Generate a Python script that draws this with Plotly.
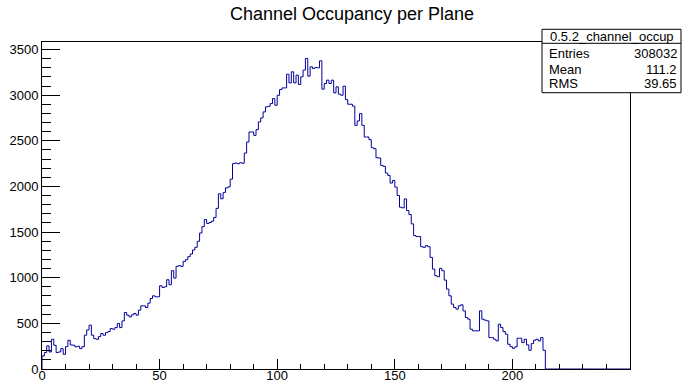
import plotly.graph_objects as go

# Histogram binning: 250 bins of width 1 from 0 to 250
x_low = 0
bin_width = 1
n_bins = 250

# Bin contents of channel occupancy (non-empty bins 0..213)
counts = [
    143, 180, 253, 187, 326, 260, 180, 187, 223, 161,
    245, 315, 264, 260, 242, 249, 223, 245, 370, 428,
    480, 370, 333, 326, 355, 388, 370, 399, 410, 443,
    436, 454, 498, 454, 527, 619, 590, 571, 593, 608,
    590, 645, 692, 692, 674, 722, 773, 802, 791, 791,
    912, 894, 901, 978, 923, 1077, 996, 1125, 1132, 1125,
    1179, 1198, 1231, 1260, 1304, 1333, 1399, 1490, 1560, 1637,
    1595, 1605, 1620, 1660, 1760, 1920, 1865, 1935, 1985, 1995,
    2080, 2250, 2257, 2250, 2260, 2255, 2366, 2487, 2597, 2597,
    2560, 2623, 2707, 2751, 2817, 2872, 2879, 2908, 2963, 2890,
    2999, 3062, 3080, 3080, 3230, 3135, 3256, 3135, 3220, 3117,
    3201, 3275, 3403, 3209, 3311, 3293, 3304, 3300, 3377, 3066,
    3128, 3165, 3128, 3165, 3026, 3092, 3011, 3000, 3099, 2952,
    2901, 2901, 2880, 2670, 2718, 2799, 2670, 2542, 2542, 2513,
    2425, 2414, 2315, 2311, 2231, 2220, 2147, 2121, 2037, 2066,
    1993, 1901, 1773, 1766, 1864, 1736, 1692, 1590, 1462, 1451,
    1451, 1340, 1333, 1352, 1340, 1223, 1095, 1022, 1011, 1103,
    1077, 974, 875, 802, 711, 674, 656, 692, 703, 637,
    564, 546, 436, 418, 418, 418, 637, 546, 535, 527,
    344, 344, 326, 308, 491, 454, 410, 381, 271, 245,
    227, 242, 337, 337, 289, 326, 264, 205, 278, 315,
    326, 308, 344, 205,
]

title_text = "Channel Occupancy per Plane"
hist_name = "0.5.2_channel_occup"
stat_labels = ["Entries", "Mean", "RMS"]
stat_values = ["308032", "111.2", "39.65"]

x_ticks = [0, 50, 100, 150, 200]
y_ticks = [0, 500, 1000, 1500, 2000, 2500, 3000, 3500]

# Fill empty bins up to the axis end and build step outline
full = counts + [0] * (n_bins - len(counts))
edges = [x_low + i * bin_width for i in range(n_bins + 1)]
xs = [edges[0]] + edges
ys = [0] + full + [full[-1]]

FONT = "Liberation Sans, Arial, sans-serif"
W, H = 684, 380
ML, MR, MT, MB = 42, 54, 42, 11
PW, PH = W - ML - MR, H - MT - MB


def px(x):
    return (x - ML) / PW


def py(y):
    return (H - MB - y) / PH


fig = go.Figure()
fig.add_trace(go.Scatter(
    x=xs, y=ys, mode="lines", line_shape="hv",
    line=dict(color="#000099", width=1),
    hoverinfo="skip", showlegend=False,
))

fig.update_layout(
    width=W, height=H,
    margin=dict(l=ML, r=MR, t=MT, b=MB, pad=0),
    paper_bgcolor="white", plot_bgcolor="white",
    font=dict(family=FONT, color="black"),
    showlegend=False,
    title=dict(text=title_text, font=dict(size=18, family=FONT, color="black"),
               xref="container", yref="container", x=352 / W, y=1 - 14 / H,
               xanchor="center", yanchor="middle"),
)

fig.update_xaxes(
    range=[0, 250], automargin=False,
    showgrid=False, zeroline=False,
    showline=True, linecolor="black", linewidth=1, mirror=True,
    ticks="inside", ticklen=10, tickcolor="black", tickwidth=1,
    tickvals=x_ticks, ticktext=[str(v) for v in x_ticks],
    tickfont=dict(size=13, family=FONT, color="black"),
    ticklabelstandoff=-6,
    minor=dict(ticks="inside", ticklen=5, dtick=10, tick0=0, tickcolor="black", showgrid=False),
)
fig.update_yaxes(
    range=[0, 3583], automargin=False,
    showgrid=False, zeroline=False,
    showline=True, linecolor="black", linewidth=1, mirror=True,
    ticks="inside", ticklen=18, tickcolor="black", tickwidth=1,
    tickvals=y_ticks, ticktext=[str(v) for v in y_ticks],
    tickfont=dict(size=13, family=FONT, color="black"),
    minor=dict(ticks="inside", ticklen=9, dtick=100, tick0=0, tickcolor="black", showgrid=False),
)

# Statistics box
bx0, bx1, by0, by1, bhead = 542, 681, 29.3, 92.7, 43.3
fig.add_shape(type="rect", xref="paper", yref="paper",
              x0=px(bx0), x1=px(bx1), y0=py(by1), y1=py(by0),
              fillcolor="white", line=dict(color="black", width=1), layer="above")
fig.add_shape(type="line", xref="paper", yref="paper",
              x0=px(bx0), x1=px(bx1), y0=py(bhead), y1=py(bhead),
              line=dict(color="black", width=1), layer="above")
fig.add_annotation(text=hist_name, xref="paper", yref="paper",
                   x=px((bx0 + bx1) / 2), y=py(36.3), xanchor="center", yanchor="middle",
                   showarrow=False, font=dict(size=13, family=FONT, color="black"))
for lab, val, yy in zip(stat_labels, stat_values, [53.5, 69.5, 83.5]):
    fig.add_annotation(text=lab, xref="paper", yref="paper",
                       x=px(547), y=py(yy), xanchor="left", yanchor="middle",
                       showarrow=False, font=dict(size=13, family=FONT, color="black"))
    fig.add_annotation(text=val, xref="paper", yref="paper",
                       x=px(679), y=py(yy), xanchor="right", yanchor="middle",
                       showarrow=False, font=dict(size=13, family=FONT, color="black"))

fig.write_html("out.html")
